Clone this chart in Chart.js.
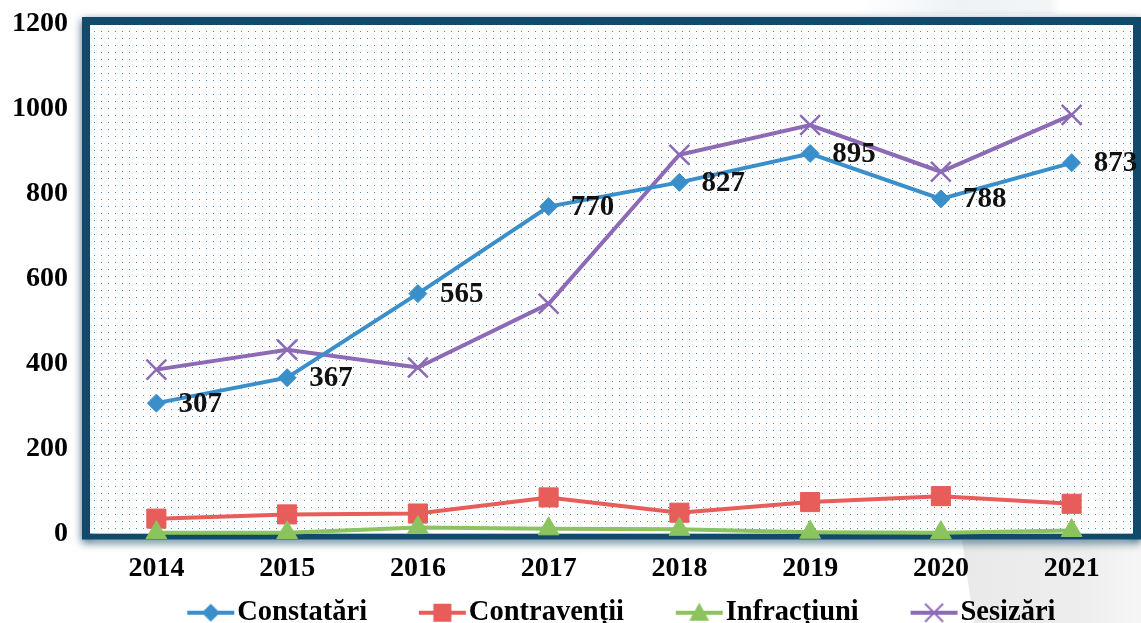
<!DOCTYPE html>
<html>
<head>
<meta charset="utf-8">
<script src="https://cdn.jsdelivr.net/npm/chart.js@4.4.0/dist/chart.umd.min.js"></script>
<style>
  html, body { margin: 0; padding: 0; background: #fff; overflow: hidden; }
  #wrap { position: relative; width: 1141px; height: 623px; overflow: hidden; }
  .shade { position: absolute; }
  #s1 { left: 962px; top: 540px; width: 179px; height: 83px;
        background: linear-gradient(to right, #e9e9e9, #eeeeee 70%, #f6f6f6);
        clip-path: polygon(0 0, 100% 0, 100% 100%, 12px 100%); }
  #s2 { left: 860px; top: 0; width: 200px; height: 14px;
        background: linear-gradient(to right, rgba(236,240,244,0), #eef2f5 50%, #f3f5f7 95%, #fff); }
  #c { position: absolute; left: 0; top: 0; }
</style>
</head>
<body>
<div id="wrap">
  <div class="shade" id="s1"></div>
  <div class="shade" id="s2"></div>
  <canvas id="c" width="1141" height="637"></canvas>
</div>
<script>
// data
const years = ['2014', '2015', '2016', '2017', '2018', '2019', '2020', '2021'];
const constatari = [307, 367, 565, 770, 827, 895, 788, 873];
const contraventii = [35, 45, 47, 85, 49, 74, 88, 70];
const infractiuni = [2, 2, 14, 11, 10, 3, 2, 7];
const sesizari = [386, 433, 391, 541, 892, 962, 852, 986];
const yTicks = [0, 200, 400, 600, 800, 1000, 1200];

const BLUE = '#3a8fcb', RED = '#e65d5a', GREEN = '#8bc45f', PURPLE = '#8d6ab6';
const FONT = '"Liberation Serif", "Times New Roman", serif';

// legend icon: short line with the marker on it
function legendIcon(kind, color) {
  const c = document.createElement('canvas');
  c.width = 104; c.height = 26;
  const g = c.getContext('2d');
  g.strokeStyle = color; g.fillStyle = color; g.lineWidth = 4;
  g.beginPath(); g.moveTo(55, 13); g.lineTo(102, 13); g.stroke();
  const x = 78.5, y = 13;
  g.beginPath();
  if (kind === 'diamond') {
    g.moveTo(x, y - 9); g.lineTo(x + 9, y); g.lineTo(x, y + 9); g.lineTo(x - 9, y); g.closePath(); g.fill();
  } else if (kind === 'square') {
    g.fillRect(x - 9, y - 9, 18, 18);
  } else if (kind === 'triangle') {
    g.moveTo(x, y - 10); g.lineTo(x + 10, y + 8); g.lineTo(x - 10, y + 8); g.closePath(); g.fill();
  } else {
    g.lineWidth = 2;
    g.moveTo(x - 9, y - 9); g.lineTo(x + 9, y + 9);
    g.moveTo(x + 9, y - 9); g.lineTo(x - 9, y + 9); g.stroke();
  }
  return c;
}
const icons = [legendIcon('diamond', BLUE), legendIcon('square', RED),
               legendIcon('triangle', GREEN), legendIcon('cross', PURPLE)];

function dotPattern(ctx) {
  const c = document.createElement('canvas');
  c.width = 7; c.height = 7;
  const g = c.getContext('2d');
  g.fillStyle = '#3f88c4';
  g.fillRect(3, 3, 1, 1);
  return ctx.createPattern(c, 'repeat');
}

const framePlugin = {
  id: 'frame',
  afterLayout(chart) {
    // legend sits a bit right of centre in the original
    chart.legend.left += 32;
    chart.legend.right += 32;
  },
  beforeDatasetsDraw(chart) {
    const { ctx, chartArea: a } = chart;
    const L = 90, T = 25, R = 1133, B = a.bottom;
    ctx.save();
    ctx.fillStyle = dotPattern(ctx);
    ctx.fillRect(L, T, R - L, B - T);
    // clip away the inside so the shadow only falls outwards
    ctx.beginPath();
    ctx.rect(0, 0, chart.width, chart.height);
    ctx.rect(L, T, R - L, B - T);
    ctx.clip('evenodd');
    ctx.beginPath();
    ctx.rect(L - 8, T - 8, R - L + 16, B - T + 14);
    ctx.rect(L, T, R - L, B - T);
    ctx.shadowColor = 'rgba(16,70,105,0.85)';
    ctx.shadowBlur = 9;
    ctx.shadowOffsetY = 3;
    ctx.fillStyle = '#124a6b';
    ctx.fill('evenodd');
    ctx.restore();
  }
};

const valueLabels = {
  id: 'valueLabels',
  afterDatasetsDraw(chart) {
    const meta = chart.getDatasetMeta(0);
    const ctx = chart.ctx;
    ctx.save();
    ctx.font = 'bold 29px ' + FONT;
    ctx.fillStyle = '#111';
    ctx.textAlign = 'left';
    ctx.textBaseline = 'middle';
    meta.data.forEach((pt, i) => ctx.fillText(String(constatari[i]), pt.x + 22, pt.y + 1));
    ctx.restore();
  }
};

function series(label, data, color, style, radius, order, pbw) {
  return {
    label, data, order,
    borderColor: color, backgroundColor: color,
    borderWidth: 4, tension: 0,
    pointStyle: style, pointRadius: radius, pointHoverRadius: radius,
    pointBackgroundColor: color, pointBorderColor: color, pointBorderWidth: pbw,
    clip: false
  };
}

new Chart(document.getElementById('c'), {
  type: 'line',
  data: {
    labels: years,
    datasets: [
      series('Constatări', constatari, BLUE, 'rectRot', 9, 0, 1),
      series('Contravenții', contraventii, RED, 'rect', 13.5, 2, 1),
      series('Infracțiuni', infractiuni, GREEN, 'triangle', 12, 1, 1),
      series('Sesizări', sesizari, PURPLE, 'crossRot', 14, 3, 2.5)
    ]
  },
  options: {
    responsive: false,
    animation: false,
    layout: { autoPadding: false, padding: { top: 24, right: 4, left: 0, bottom: 0 } },
    scales: {
      x: {
        offset: true,
        grid: { display: false },
        border: { display: false },
        ticks: { color: '#000', font: { family: FONT, size: 28, weight: 'bold' }, padding: 10 },
        afterFit(axis) { axis.height = 55; }
      },
      y: {
        min: 0, max: 1200,
        grid: { display: false },
        border: { display: false },
        afterBuildTicks(axis) { axis.ticks = yTicks.map(v => ({ value: v })); },
        ticks: {
          color: '#000', font: { family: FONT, size: 28, weight: 'bold' }, padding: 15,
          callback: v => String(v)
        },
        afterFit(axis) { axis.width = 91; axis.paddingTop = 0; }
      }
    },
    plugins: {
      tooltip: { enabled: false },
      legend: {
        position: 'bottom',
        labels: {
          color: '#000',
          font: { family: FONT, size: 28.5, weight: 'bold' },
          usePointStyle: true,
          pointStyleWidth: 77.5,
          padding: 10,
          sort: (a, b) => a.datasetIndex - b.datasetIndex,
          generateLabels(chart) {
            const items = Chart.defaults.plugins.legend.labels.generateLabels(chart);
            items.forEach(it => { it.pointStyle = icons[it.datasetIndex]; });
            return items;
          }
        }
      }
    }
  },
  plugins: [framePlugin, valueLabels]
});
</script>
</body>
</html>
